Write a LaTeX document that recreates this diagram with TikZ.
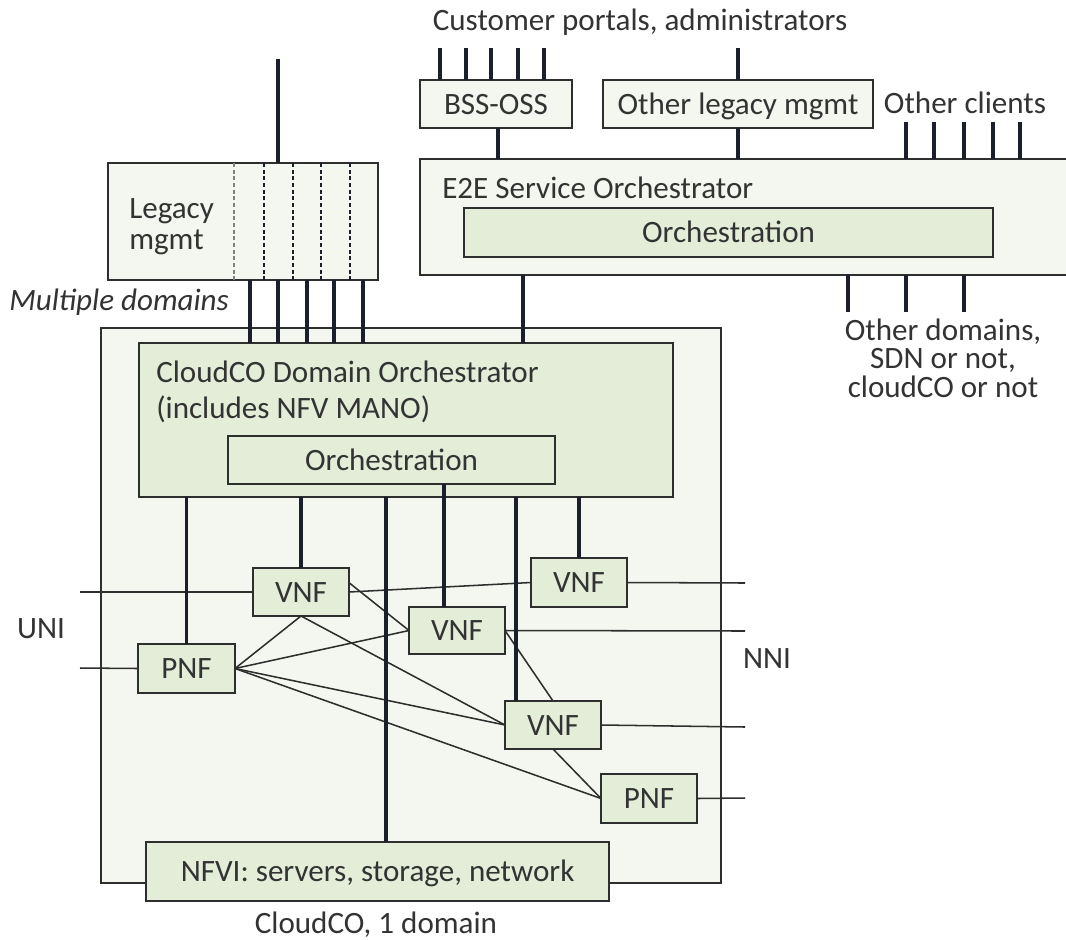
\documentclass[tikz,border=0pt]{standalone}
\usepackage{fontspec}
\setmainfont{Carlito}
\definecolor{palefill}{HTML}{F4F7EF}
\definecolor{greenfill}{HTML}{E3EDD8}
\definecolor{edgegray}{HTML}{2E2E2E}
\definecolor{wire}{HTML}{1A1F2B}
\definecolor{ink}{HTML}{333333}
\newcommand\diagfont{\fontsize{23.3pt}{28pt}\selectfont}
% box from its corner coordinates: name, x1, y1, x2, y2, style
\newcommand\pxbox[6]{\node[#6, minimum width={(#4-#2)*0.75pt}, minimum height={(#5-#3)*0.75pt}] (#1) at ({(#2+#4)/2},{(#3+#5)/2})}
\tikzset{
  palebox/.style={draw=edgegray, fill=palefill, line width=1.1pt, inner sep=0pt, outer sep=0pt,
    text=ink, text height=15pt, text depth=0pt},
  greenbox/.style={draw=edgegray, fill=greenfill, line width=1.1pt, inner sep=0pt, outer sep=0pt,
    text=ink, text height=15pt, text depth=0pt},
  mgmtline/.style={draw=wire, line width=2.5pt},
  dataline/.style={draw=edgegray, line width=1.15pt},
  legacydash/.style={draw=wire, line width=1.4pt, dash pattern=on 3pt off 2pt},
  caption/.style={text=ink, inner sep=0pt, anchor=base},
}
\begin{document}
\begin{tikzpicture}[x=0.75pt, y=-0.75pt, font=\diagfont]
\useasboundingbox (0,0) rectangle (1066,939);
\fill[white] (0,0) rectangle (1066,939);

% ---- outer containers ----
\pxbox{cloudco}{101}{328}{721}{883}{palebox} {};
\pxbox{e2e}{420}{159}{1080}{275}{palebox} {};
\pxbox{legacy}{108}{163}{378}{280}{palebox} {};
\pxbox{bss}{420}{80}{572}{128}{palebox} {BSS-OSS};
\pxbox{otherlegacy}{603}{80}{873}{128}{palebox} {Other legacy mgmt};

% ---- E2E orchestrator content ----
\node[caption, anchor=base west] (e2elabel) at (442,198) {E2E Service Orchestrator};
\pxbox{orchtop}{464}{208}{993}{257}{greenbox} {Orchestration};

% ---- legacy management ----
\node[caption, anchor=base west] (leg1) at (129,218) {Legacy};
\node[caption, anchor=base west] (leg2) at (129,249) {mgmt};
\draw[legacydash, draw=gray, line width=0.8pt] (234,0 |- legacy.north) -- (234,0 |- legacy.south);
\foreach \x in {264,293,321,350}
  \draw[legacydash] (\x,0 |- legacy.north) -- (\x,0 |- legacy.south);

% ---- CloudCO domain ----
\pxbox{dorch}{139}{343}{673}{497}{greenbox} {};
\node[caption, anchor=base west] (dorch1) at (156,382) {CloudCO Domain Orchestrator};
\node[caption, anchor=base west] (dorch2) at (156,418) {(includes NFV MANO)};
\pxbox{orchdom}{228}{436}{555}{484}{greenbox} {Orchestration};

\pxbox{vnfa}{253}{568}{349}{616}{greenbox} {VNF};
\pxbox{vnfd}{531}{558}{627}{607}{greenbox} {VNF};
\pxbox{vnfb}{409}{607}{505}{654}{greenbox} {VNF};
\pxbox{pnfa}{138}{644}{235}{693}{greenbox} {PNF};
\pxbox{vnfc}{505}{701}{601}{749}{greenbox} {VNF};
\pxbox{pnfb}{601}{774}{697}{823}{greenbox} {PNF};
\pxbox{nfvi}{146}{842}{609}{901}{greenbox} {NFVI: servers, storage, network};

% ---- free line ends ----
\coordinate (legin) at (278,59);
\coordinate (othin) at (738,48);
\coordinate (uniA) at (80,592);
\coordinate (uniB) at (80,668);
\coordinate (nniA) at (745,583);
\coordinate (nniB) at (745,631);
\coordinate (nniC) at (745,727);
\coordinate (nniD) at (745,798);

% ---- labels ----
\node[caption] (portals) at (640,30) {Customer portals, administrators};
\node[caption] (clients) at (965,113) {Other clients};
\node[caption] (od1) at (943,340) {Other domains,};
\node[caption] (od2) at (943,368) {SDN or not,};
\node[caption] (od3) at (943,397) {cloudCO or not};
\node[caption, anchor=base west, font=\diagfont\itshape] (multi) at (9,310) {Multiple domains};
\node[caption] (uni) at (41,638) {UNI};
\node[caption] (nni) at (767,668) {NNI};
\node[caption] (cloudlabel) at (376,933) {CloudCO, 1 domain};

% ---- data-plane links ----
\draw[dataline] (uniA) -- (vnfa.west);
\draw[dataline] (uniB) -- (pnfa.west);
\draw[dataline] (vnfd.east) -- (nniA);
\draw[dataline] (vnfb.east) -- (nniB);
\draw[dataline] (vnfc.east) -- (nniC);
\draw[dataline] (pnfb.east) -- (nniD);
\draw[dataline] (vnfa.east) -- (vnfd.west);
\draw[dataline] (vnfa.11) -- (vnfb.west);
\draw[dataline] (vnfa.south) -- (pnfa.east);
\draw[dataline] (vnfa.south) -- (vnfc.west);
\draw[dataline] (pnfa.east) -- (vnfb.west);
\draw[dataline] (pnfa.east) -- (vnfc.west);
\draw[dataline] (pnfa.east) -- (pnfb.west);
\draw[dataline] (vnfb.east) -- (vnfc.north);
\draw[dataline] (vnfc.south) -- (pnfb.west);

% ---- management links ----
\foreach \x in {440,466,491,518,544} {
  \coordinate (bt\x) at (\x,48);
  \draw[mgmtline] (bt\x) -- (bt\x |- bss.north);
}
\draw[mgmtline] (othin) -- (othin |- otherlegacy.north);
\draw[mgmtline] (othin |- otherlegacy.south) -- (othin |- e2e.north);
\draw[mgmtline] (498,0 |- bss.south) -- (498,0 |- e2e.north);
\foreach \x in {906,934,964,993,1020} {
  \coordinate (ct\x) at (\x,122);
  \draw[mgmtline] (ct\x) -- (ct\x |- e2e.north);
}
\foreach \x in {848,906,964} {
  \coordinate (dt\x) at (\x,312);
  \draw[mgmtline] (dt\x |- e2e.south) -- (dt\x);
}
\draw[mgmtline] (523,0 |- e2e.south) -- (523,0 |- dorch.north);
\draw[mgmtline] (legin) -- (legin |- legacy.north);
\foreach \x in {250,278,307,334,363}
  \draw[mgmtline] (\x,0 |- legacy.south) -- (\x,0 |- dorch.north);

\draw[mgmtline] (pnfa.north |- dorch.south) -- (pnfa.north);
\draw[mgmtline] (vnfa.north |- dorch.south) -- (vnfa.north);
\draw[mgmtline] (386,0 |- dorch.south) -- (386,0 |- nfvi.north);
\draw[mgmtline] (444,0 |- orchdom.south) -- (444,0 |- vnfb.north);
\draw[mgmtline] (516,0 |- dorch.south) -- (516,0 |- vnfc.north);
\draw[mgmtline] (vnfd.north |- dorch.south) -- (vnfd.north);
\end{tikzpicture}
\end{document}
